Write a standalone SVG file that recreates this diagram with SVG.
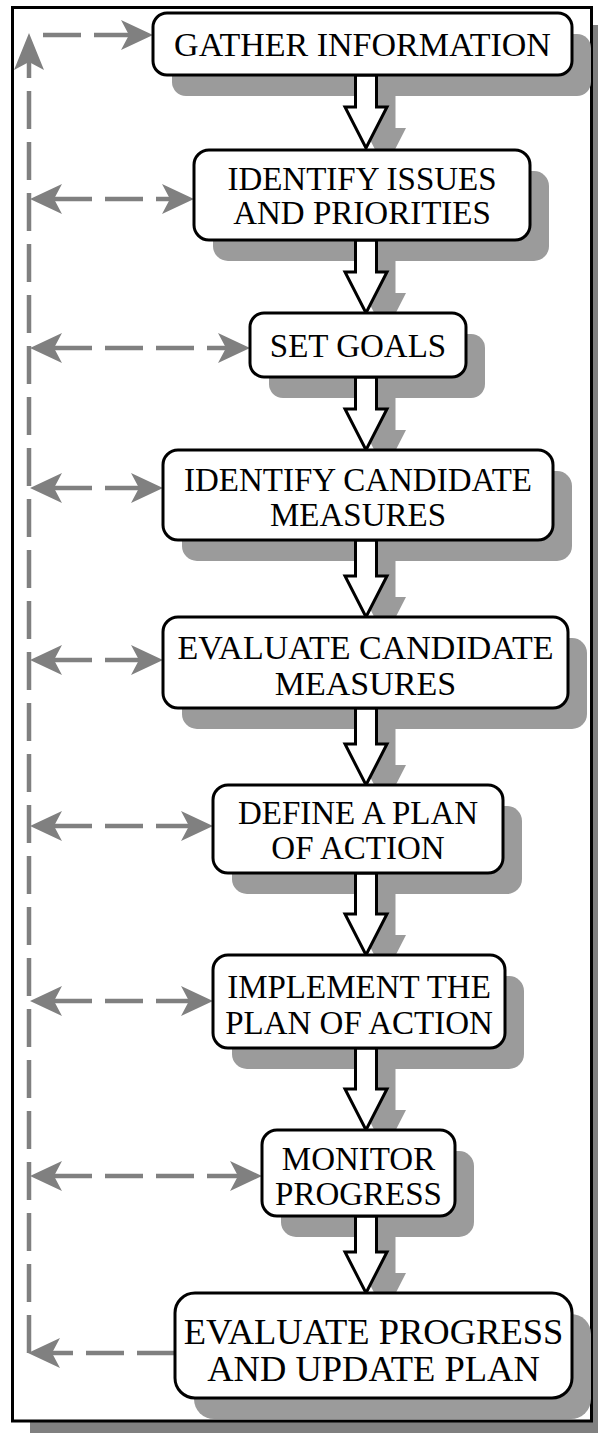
<svg xmlns="http://www.w3.org/2000/svg" width="598" height="1433" viewBox="0 0 598 1433">
<defs>
<style>
.box{fill:#fff;stroke:#000;stroke-width:3}
.sh{fill:#9b9b9b}
.blk{fill:#fff;stroke:#000;stroke-width:3;stroke-linejoin:miter}
.t{font-family:"Liberation Serif","Times New Roman",serif;font-size:33px;fill:#000;text-anchor:middle}
.dl{fill:none;stroke:#808080;stroke-width:4.5;stroke-dasharray:38 13}
</style>
<marker id="ah" viewBox="-8 -15 33 30" markerWidth="33" markerHeight="30" refX="0" refY="0" markerUnits="userSpaceOnUse" orient="auto-start-reverse">
<path d="M24,0 L-8,-15 L0,0 L-8,15 Z" fill="#808080"/>
</marker>
<marker id="ahv" viewBox="-8 -15 38 30" markerWidth="38" markerHeight="30" refX="0" refY="0" markerUnits="userSpaceOnUse" orient="auto">
<path d="M29,0 L-8,-15 L0,0 L-8,15 Z" fill="#808080"/>
</marker>
</defs>
<rect id="frame-shadow" x="30" y="25" width="600" height="1420" fill="#808080"/>
<rect id="frame" x="12.5" y="7.5" width="579" height="1413.5" fill="#fff" stroke="#000" stroke-width="3"/>
<g id="shadows" class="sh" transform="translate(19,21)">
<rect x="153" y="13" width="419" height="62" rx="14"/>
<rect x="194" y="150" width="336" height="90" rx="15"/>
<rect x="250" y="313" width="216" height="64" rx="14"/>
<rect x="163" y="450" width="390" height="90" rx="15"/>
<rect x="163" y="617" width="405" height="91" rx="15"/>
<rect x="213" y="785" width="290" height="88" rx="15"/>
<rect x="213" y="955" width="292" height="93" rx="15"/>
<rect x="262" y="1130" width="193" height="86" rx="15"/>
<rect x="175" y="1293" width="397" height="105" rx="20"/>
<path d="M355.5,75 H376.5 V107 H387 L366,148 L345,107 H355.5 Z"/>
<path d="M355.5,240 H376.5 V272 H387 L366,313 L345,272 H355.5 Z"/>
<path d="M355.5,377 H376.5 V409 H387 L366,450 L345,409 H355.5 Z"/>
<path d="M355.5,540 H376.5 V576 H387 L366,617 L345,576 H355.5 Z"/>
<path d="M355.5,708 H376.5 V744 H387 L366,785 L345,744 H355.5 Z"/>
<path d="M355.5,873 H376.5 V914 H387 L366,955 L345,914 H355.5 Z"/>
<path d="M355.5,1048 H376.5 V1089 H387 L366,1130 L345,1089 H355.5 Z"/>
<path d="M355.5,1216 H376.5 V1252 H387 L366,1293 L345,1252 H355.5 Z"/>
</g>
<g id="connectors">
<path class="dl" d="M29,1353 V62" marker-end="url(#ahv)"/>
<path class="dl" d="M43,35 H129" marker-end="url(#ah)"/>
<path class="dl" d="M54,199 H170" marker-start="url(#ah)" marker-end="url(#ah)"/>
<path class="dl" d="M54,348 H226" marker-start="url(#ah)" marker-end="url(#ah)"/>
<path class="dl" d="M54,488 H139" marker-start="url(#ah)" marker-end="url(#ah)"/>
<path class="dl" d="M54,660 H139" marker-start="url(#ah)" marker-end="url(#ah)"/>
<path class="dl" d="M54,826 H189" marker-start="url(#ah)" marker-end="url(#ah)"/>
<path class="dl" d="M54,1001 H189" marker-start="url(#ah)" marker-end="url(#ah)"/>
<path class="dl" d="M54,1176 H238" marker-start="url(#ah)" marker-end="url(#ah)"/>
<path class="dl" d="M175,1353 H52" marker-end="url(#ah)"/>
<path class="blk" d="M355.5,75 H376.5 V107 H387 L366,148 L345,107 H355.5 Z"/>
<path class="blk" d="M355.5,240 H376.5 V272 H387 L366,313 L345,272 H355.5 Z"/>
<path class="blk" d="M355.5,377 H376.5 V409 H387 L366,450 L345,409 H355.5 Z"/>
<path class="blk" d="M355.5,540 H376.5 V576 H387 L366,617 L345,576 H355.5 Z"/>
<path class="blk" d="M355.5,708 H376.5 V744 H387 L366,785 L345,744 H355.5 Z"/>
<path class="blk" d="M355.5,873 H376.5 V914 H387 L366,955 L345,914 H355.5 Z"/>
<path class="blk" d="M355.5,1048 H376.5 V1089 H387 L366,1130 L345,1089 H355.5 Z"/>
<path class="blk" d="M355.5,1216 H376.5 V1252 H387 L366,1293 L345,1252 H355.5 Z"/>
</g>
<g id="n1"><rect class="box" x="153" y="13" width="419" height="62" rx="14"/><text class="t" x="362.5" y="56" style="font-size:34px">GATHER INFORMATION</text></g>
<g id="n2"><rect class="box" x="194" y="150" width="336" height="90" rx="15"/><text class="t" x="362" y="190">IDENTIFY ISSUES</text><text class="t" x="362" y="224">AND PRIORITIES</text></g>
<g id="n3"><rect class="box" x="250" y="313" width="216" height="64" rx="14"/><text class="t" x="358" y="357">SET GOALS</text></g>
<g id="n4"><rect class="box" x="163" y="450" width="390" height="90" rx="15"/><text class="t" x="358" y="491">IDENTIFY CANDIDATE</text><text class="t" x="358" y="526">MEASURES</text></g>
<g id="n5"><rect class="box" x="163" y="617" width="405" height="91" rx="15"/><text class="t" x="365.5" y="659" style="font-size:34px">EVALUATE CANDIDATE</text><text class="t" x="365.5" y="695" style="font-size:34px">MEASURES</text></g>
<g id="n6"><rect class="box" x="213" y="785" width="290" height="88" rx="15"/><text class="t" x="358" y="824">DEFINE A PLAN</text><text class="t" x="358" y="859">OF ACTION</text></g>
<g id="n7"><rect class="box" x="213" y="955" width="292" height="93" rx="15"/><text class="t" x="359" y="998">IMPLEMENT THE</text><text class="t" x="359" y="1034">PLAN OF ACTION</text></g>
<g id="n8"><rect class="box" x="262" y="1130" width="193" height="86" rx="15"/><text class="t" x="358.5" y="1170">MONITOR</text><text class="t" x="358.5" y="1205">PROGRESS</text></g>
<g id="n9"><rect class="box" x="175" y="1293" width="397" height="105" rx="20"/><text class="t" x="373.5" y="1344" style="font-size:36.5px">EVALUATE PROGRESS</text><text class="t" x="373.5" y="1381" style="font-size:36.5px">AND UPDATE PLAN</text></g>
</svg>
